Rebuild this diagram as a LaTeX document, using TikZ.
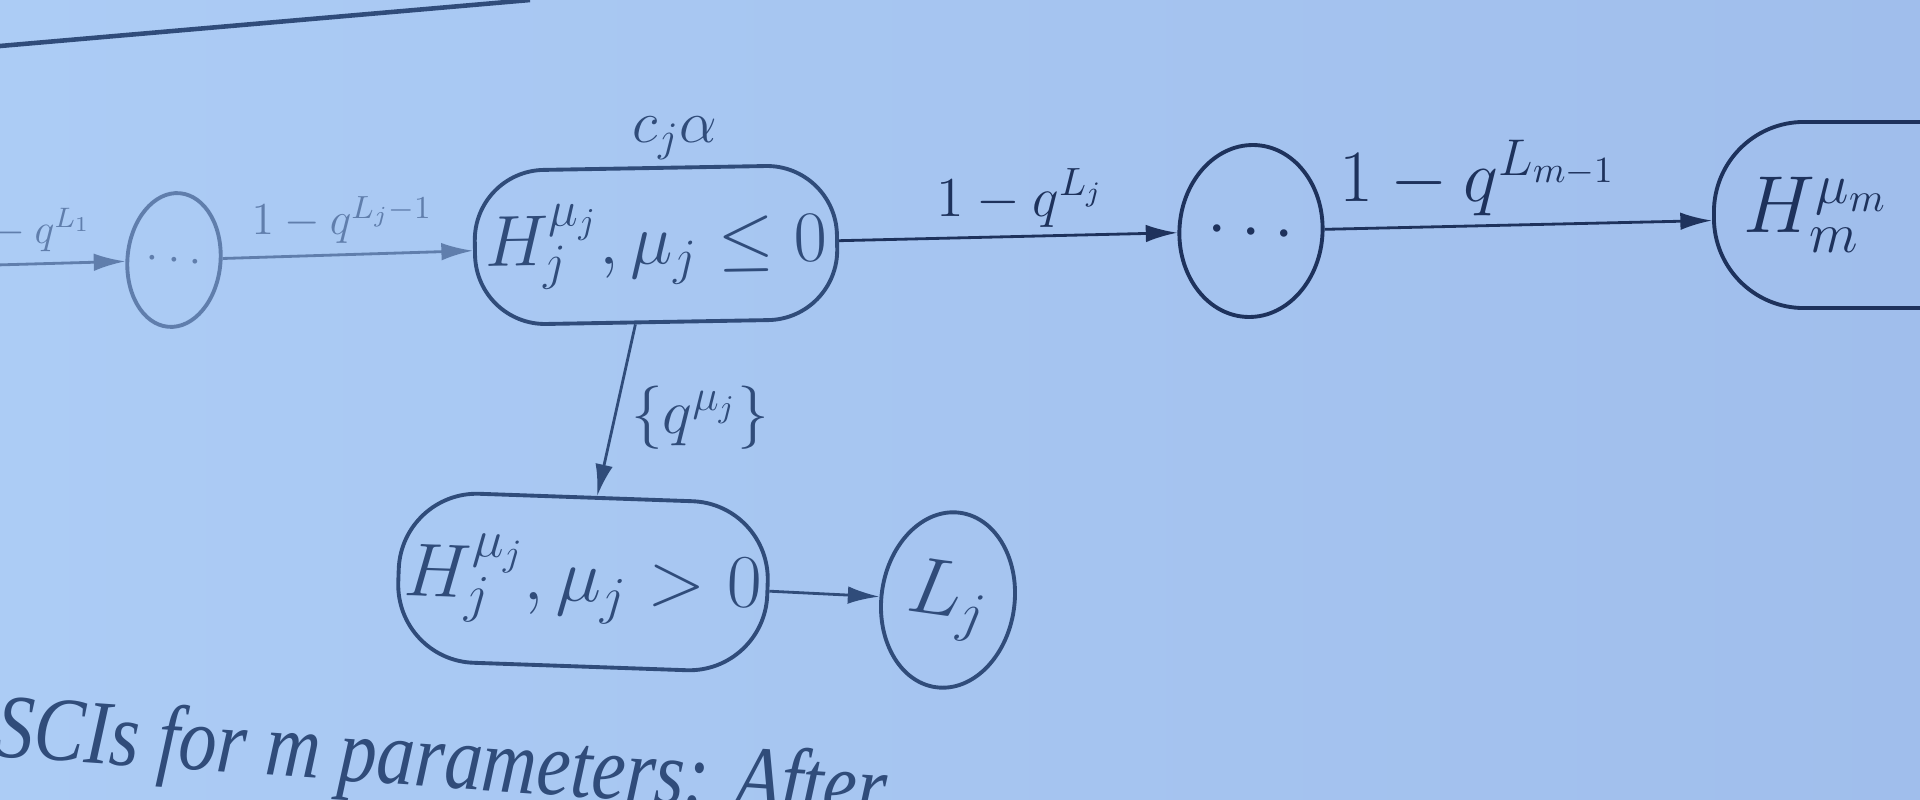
\RequirePackage{fix-cm}
\documentclass[tikz,border=0pt]{standalone}
\usepackage{fontspec}
\newfontfamily\pageserif{Liberation Serif}
\usetikzlibrary{arrows.meta,calc,shapes.geometric}
\definecolor{bgL}{RGB}{172,204,245}
\definecolor{bgR}{RGB}{160,190,236}
\definecolor{inkA}{RGB}{96,126,172}
\definecolor{inkB}{RGB}{48,76,122}
\definecolor{inkC}{RGB}{30,50,92}
\newcommand\fsz[1]{\fontsize{#1}{#1}\selectfont}
\begin{document}
\begin{tikzpicture}[x=0.01cm,y=-0.01cm,
  statebox/.style={draw, rectangle, line width=1.1pt, inner sep=0pt},
  blob/.style={draw, ellipse, line width=1.1pt, inner sep=0pt},
  flow/.style={-{Latex[length=9pt,width=5pt]}, line width=0.8pt},
  lab/.style={inner sep=0pt}]
\useasboundingbox (0,0) rectangle (1920,800);
\clip (0,0) rectangle (1920,800);
\shade[left color=bgL, right color=bgR] (0,0) rectangle (1920,800);
\draw[inkB, line width=1.3pt] (0,46) -- (530,0);

% nodes
\coordinate (in0) at (-40,266);
\node[blob, draw=inkA, text=inkA, minimum width=0.93cm, minimum height=1.34cm, rotate=-5, font=\fsz{14}] (e1) at (174,260) {$\ldots$};
\node[statebox, rounded corners=0.7cm, draw=inkB, text=inkB, minimum width=3.62cm, minimum height=1.54cm, rotate=1, font=\fsz{20.5}] (hj) at (656,245) {$H_j^{\mu_j}, \mu_j \le 0$};
\node[lab, text=inkB, font=\fsz{17}] (cja) at (675,138) {$c_j\alpha$};
\node[blob, draw=inkC, text=inkC, minimum width=1.43cm, minimum height=1.72cm, rotate=-4, font=\fsz{22}] (e2) at (1251,231) {$\ldots$};
\node[statebox, rounded corners=0.9cm, draw=inkC, text=inkC, minimum height=1.86cm, inner xsep=0.3cm, anchor=west, font=\fsz{23}] (hm) at (1712,215) {$H_m^{\mu_m}\phantom{, \mu_m \le 0}$};
\node[statebox, rounded corners=0.78cm, draw=inkB, text=inkB, minimum width=3.69cm, minimum height=1.69cm, rotate=-2, font=\fsz{21.5}] (hp) at (583,582) {$H_j^{\mu_j}, \mu_j > 0$};
\node[blob, draw=inkB, text=inkB, minimum width=1.33cm, minimum height=1.76cm, rotate=-8, font=\fsz{22.8}] (lj) at (948,600) {$L_j$};

% edge labels
\node[lab, anchor=base east, text=inkA, font=\fsz{12}] (l0) at (92,243) {$1-q^{L_1}$};
\node[lab, text=inkA, font=\fsz{13}] (l1) at (342,220) {$1-q^{L_j-1}$};
\node[lab, text=inkC, font=\fsz{16}] (l2) at (1020,198) {$1-q^{L_j}$};
\node[lab, text=inkC, font=\fsz{21}] (l3) at (1478,178) {$1-q^{L_{m-1}}$};
\node[lab, text=inkB, font=\fsz{18}] (lq) at (700,418) {$\{q^{\mu_j}\}$};

% connectors
\draw[flow, inkA] (in0) -- (e1);
\draw[flow, inkA] (e1) -- (hj);
\draw[flow, inkC] (hj) -- (e2);
\draw[flow, inkC] (e2) -- (hm);
\draw[flow, inkB] ($(hj.south west)!0.44!(hj.south east)$) -- ($(hp.north west)!0.53!(hp.north east)$);
\draw[flow, inkB] (hp) -- (lj);

% page text
\node[anchor=base west, rotate=-4, inner sep=0pt, text=inkB, font=\pageserif\itshape\fsz{24}] (para) at (-6,756) {\scalebox{0.9}[1.08]{SCIs for m parameters: After}};
\end{tikzpicture}
\end{document}
